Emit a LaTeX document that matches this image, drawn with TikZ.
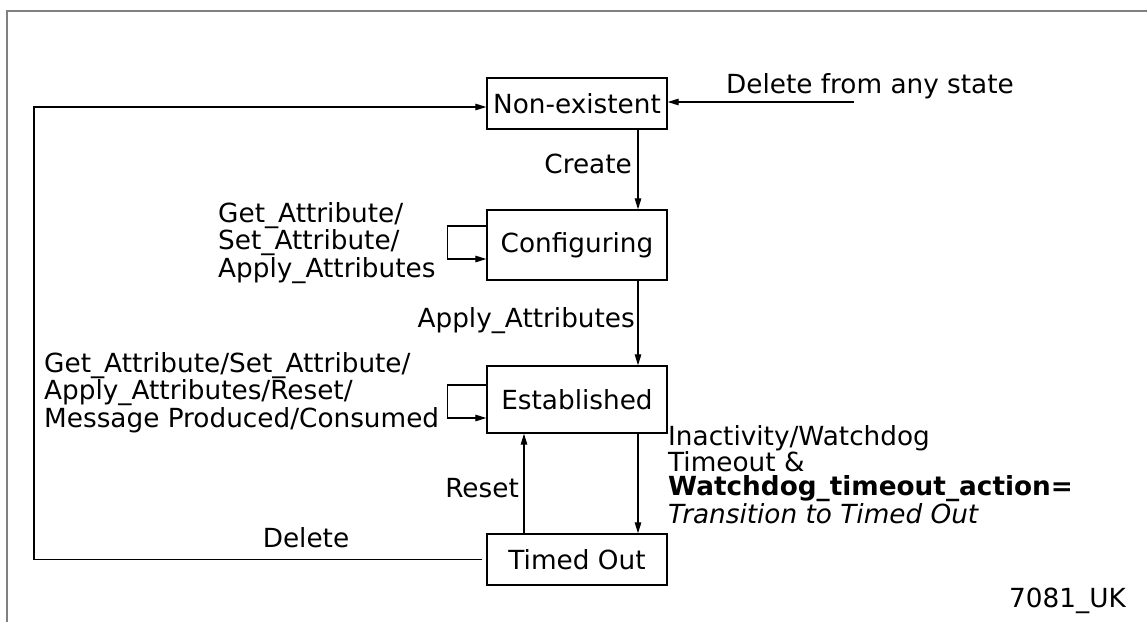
\documentclass[tikz,border=0pt]{standalone}
\usepackage{fontspec}
\setmainfont{DejaVu Sans}
\usetikzlibrary{arrows.meta}
\begin{document}
\begin{tikzpicture}[x=1pt,y=-1pt,
  lbl/.style={font=\fontsize{26.3}{24}\selectfont, inner sep=0pt},
  tight/.style={font=\fontsize{26.3}{22}\selectfont},
  state/.style={draw, line width=1.4pt, minimum width=180pt, inner sep=0pt, font=\fontsize{26.3}{24}\selectfont},
  arr/.style={line width=1.3pt, -{Triangle[length=11pt,width=6.5pt]}},
  frame/.style={draw=gray, line width=1.6pt}]
\useasboundingbox (0,0) rectangle (1147,621);
\fill[white] (0,0) rectangle (1147,621);
% outer frame
\coordinate (fbl) at (7,630);
\coordinate (ftl) at (7,11);
\coordinate (ftr) at (1155,11);
\draw[frame] (fbl) -- (ftl) -- (ftr);

% states
\node[state, minimum height=51pt] (ne) at (577,103.5) {Non-existent};
\node[state, minimum height=70pt] (cf) at (577,245) {Configuring};
\node[state, minimum height=67pt] (es) at (577,399.5) {Established};
\node[state, minimum height=51pt] (to) at (577,559.5) {Timed Out};

% helper coordinates
\coordinate (ax) at (638,0);
\coordinate (rx) at (524,0);
\coordinate (dl) at (34,107);
\coordinate (df) at (854,102);

% connectors
\draw[arr] (ne.south -| ax) -- (cf.north -| ax);
\draw[arr] (cf.south -| ax) -- (es.north -| ax);
\draw[arr] (es.south -| ax) -- (to.north -| ax);
\draw[arr] (to.north -| rx) -- (es.south -| rx);
\draw[arr] ([xshift=-4pt]to.west) -| (dl) |- ([yshift=-3.5pt]ne.west);
\draw[arr] (df) -- (ne.east |- df);
\draw[arr] ([yshift=19pt]cf.west) -- ++(-39pt,0) |- ([yshift=-14pt]cf.west);
\draw[arr] ([yshift=14.5pt]es.west) -- ++(-39pt,0) |- ([yshift=-18.5pt]es.west);

% labels
\node[lbl, anchor=base west] (ldf) at (726,93) {Delete from any state};
\node[lbl, anchor=base east] (lcr) at (632,173) {Create};
\node[lbl, anchor=base east] (lap) at (635,327) {Apply\_Attributes};
\node[lbl, anchor=base east] (lre) at (519,497) {Reset};
\node[lbl, anchor=base] (lde) at (306,547) {Delete};
\node[lbl, anchor=base west, align=left] (lc) at (218,277) {Get\_Attribute/\\Set\_Attribute/\\Apply\_Attributes};
\node[lbl, tight, anchor=base west, align=left] (le) at (44,427) {Get\_Attribute/Set\_Attribute/\\Apply\_Attributes/Reset/\\Message Produced/Consumed};
\node[lbl, anchor=base west, align=left] (lw) at (668,523) {Inactivity/Watchdog\\Timeout \&\\\textbf{Watchdog\_timeout\_action=}\\\textit{Transition to Timed Out}};
\node[lbl, anchor=base east] (lid) at (1126,607) {7081\_UK};
\end{tikzpicture}
\end{document}
